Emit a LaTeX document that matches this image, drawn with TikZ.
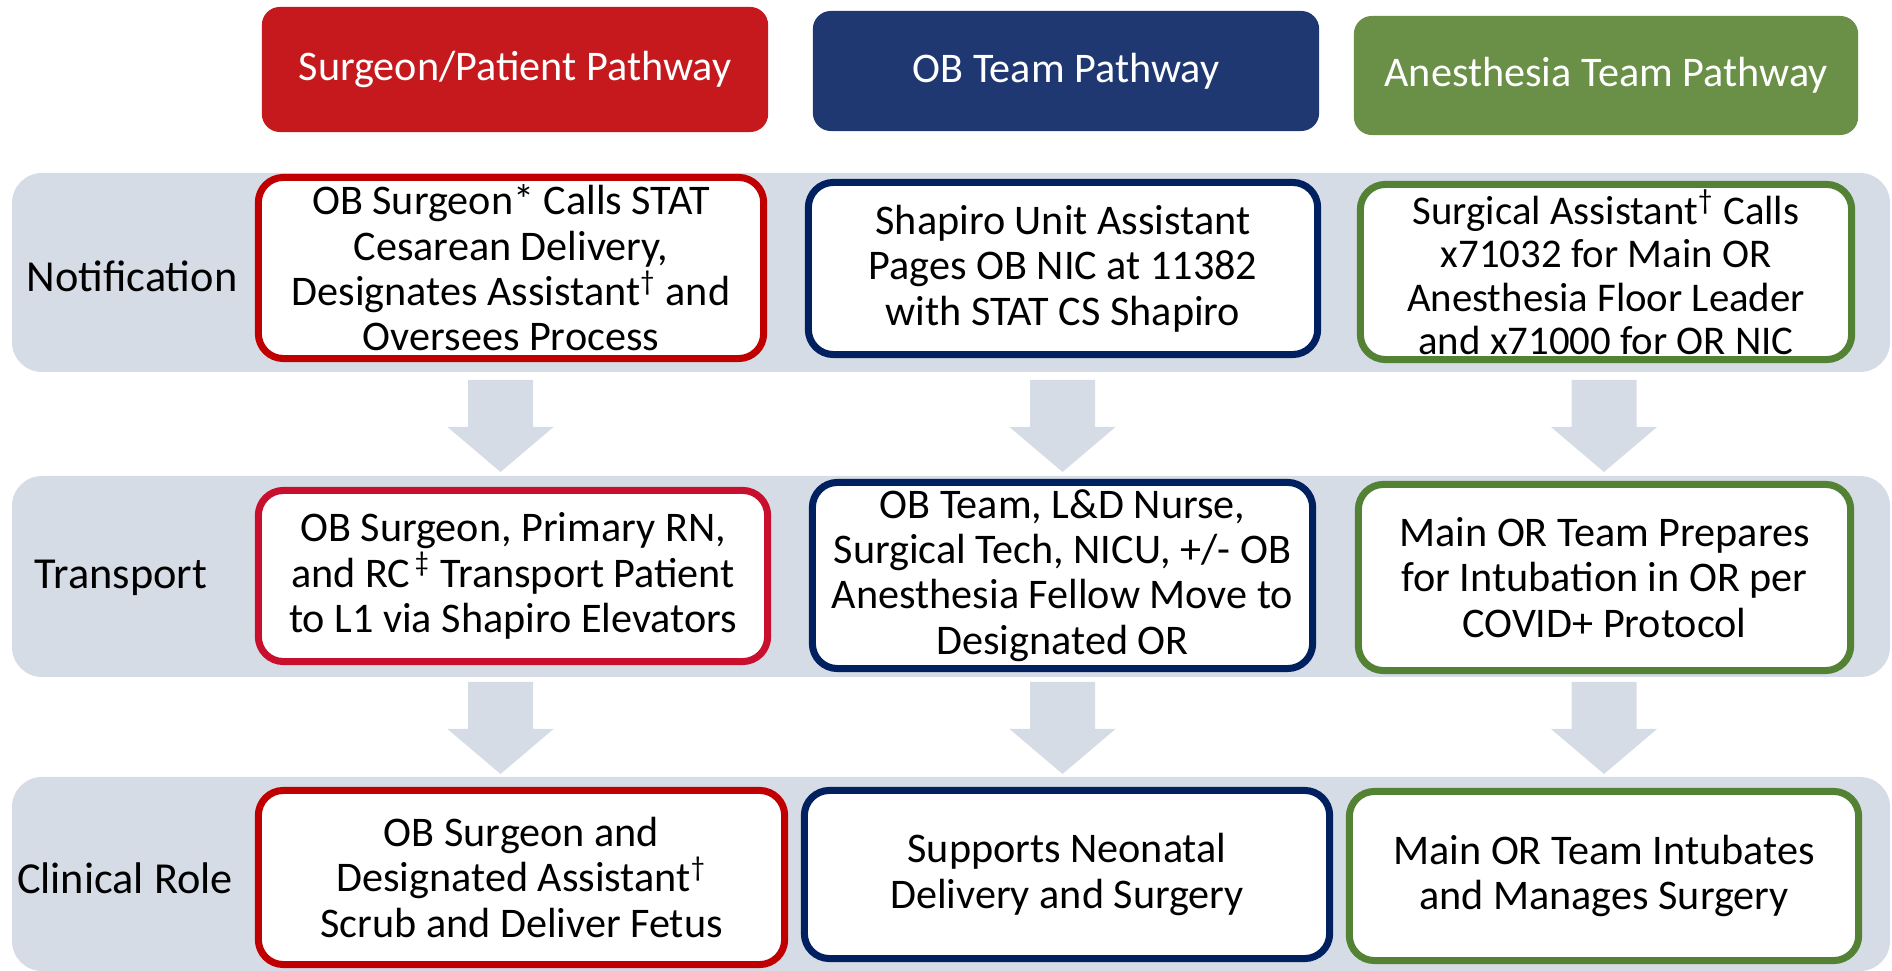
\documentclass[tikz,border=0pt]{standalone}
\usepackage{fontspec}
\setmainfont{Carlito}
\usepackage{tikz}

\definecolor{surgred}{HTML}{C5191D}
\definecolor{surgline}{HTML}{C00000}
\definecolor{surglinetwo}{HTML}{C8102E}
\definecolor{obblue}{HTML}{1F3871}
\definecolor{obline}{HTML}{002060}
\definecolor{anesgreen}{HTML}{6A8F47}
\definecolor{anesline}{HTML}{548235}
\definecolor{bandgray}{HTML}{D6DCE5}

\newcommand{\dg}{\textsuperscript{\textdagger}}

\begin{document}
\begin{tikzpicture}[x=0.01cm,y=-0.01cm,
  band/.style={fill=bandgray,rounded corners=0.3cm},
  header/.style={fill=#1,rounded corners=0.18cm,text=white,inner sep=0pt,font=\fontsize{12}{14}\selectfont},
  stepbox/.style={draw=#1,line width=2pt,fill=white,rounded corners=0.25cm,align=center,inner sep=0pt,font=\fontsize{12}{12.9}\selectfont},
  rowlabel/.style={anchor=base,font=\fontsize{12.6}{14}\selectfont},
  pics/downarrow/.style={code={
    \fill[bandgray] (-32.5,0) -- (32.5,0) -- (32.5,47) -- (53,47) -- (0,92) -- (-53,47) -- (-32.5,47) -- cycle;
  }}]
  \useasboundingbox (0,0) rectangle (1892,971);
  \clip (0,0) rectangle (1892,971);

  %bands
  \fill[band] (12,173) rectangle (1890,372);
  \fill[band] (12,476) rectangle (1890,677);
  \fill[band] (12,777) rectangle (1890,971);
  \node[rowlabel] (lnotif) at (132,292) {Notification};
  \node[rowlabel] (ltrans) at (121,589) {Transport};
  \node[rowlabel] (lclin) at (125,893) {Clinical Role};

  %arrows
  \foreach \col in {500.5,1062.5,1604}{
    \foreach \row in {380,682}{
      \pic at (\col,\row) {downarrow};
    }
  }

  %headers
  \node[header=surgred,minimum width=5.06cm,minimum height=1.25cm] (hsurg) at (515,69.5) {Surgeon/Patient Pathway};
  \node[header=obblue,minimum width=5.06cm,minimum height=1.2cm] (hob) at (1066,71) {OB Team Pathway};
  \node[header=anesgreen,minimum width=5.04cm,minimum height=1.19cm] (hanes) at (1606,75.5) {Anesthesia Team Pathway};

  %notification
  \node[stepbox=surgline,minimum width=5.05cm,minimum height=1.81cm] (nsurg) at (511,268)
    {OB Surgeon* Calls STAT\\Cesarean Delivery,\\Designates Assistant\dg{} and\\Oversees Process};
  \node[stepbox=obline,minimum width=5.09cm,minimum height=1.72cm] (nob) at (1063,268.5)
    {Shapiro Unit Assistant\\Pages OB NIC at 11382\\with STAT CS Shapiro};
  \node[stepbox=anesline,minimum width=4.91cm,minimum height=1.75cm,font=\fontsize{11.6}{12.3}\selectfont] (nanes) at (1606,272)
    {Surgical Assistant\dg{} Calls\\x71032 for Main OR\\Anesthesia Floor Leader\\and x71000 for OR NIC};

  %transport
  \node[stepbox=surglinetwo,minimum width=5.09cm,minimum height=1.71cm] (tsurg) at (513,576)
    {OB Surgeon, Primary RN,\\and RC\textsuperscript{\,\textdaggerdbl} Transport Patient\\to L1 via Shapiro Elevators};
  \node[stepbox=obline,minimum width=5cm,minimum height=1.86cm] (tob) at (1062.5,575.5)
    {OB Team, L\&D Nurse,\\Surgical Tech, NICU, +/- OB\\Anesthesia Fellow Move to\\Designated OR};
  \node[stepbox=anesline,minimum width=4.92cm,minimum height=1.86cm] (tanes) at (1604.5,577.5)
    {Main OR Team Prepares\\for Intubation in OR per\\COVID+ Protocol};

  %clinical role
  \node[stepbox=surgline,minimum width=5.26cm,minimum height=1.74cm] (csurg) at (521.5,877.5)
    {OB Surgeon and\\Designated Assistant\dg\\Scrub and Deliver Fetus};
  \node[stepbox=obline,minimum width=5.25cm,minimum height=1.68cm] (cob) at (1067,874.5)
    {Supports Neonatal\\Delivery and Surgery};
  \node[stepbox=anesline,minimum width=5.09cm,minimum height=1.69cm] (canes) at (1604,876)
    {Main OR Team Intubates\\and Manages Surgery};
\end{tikzpicture}
\end{document}
